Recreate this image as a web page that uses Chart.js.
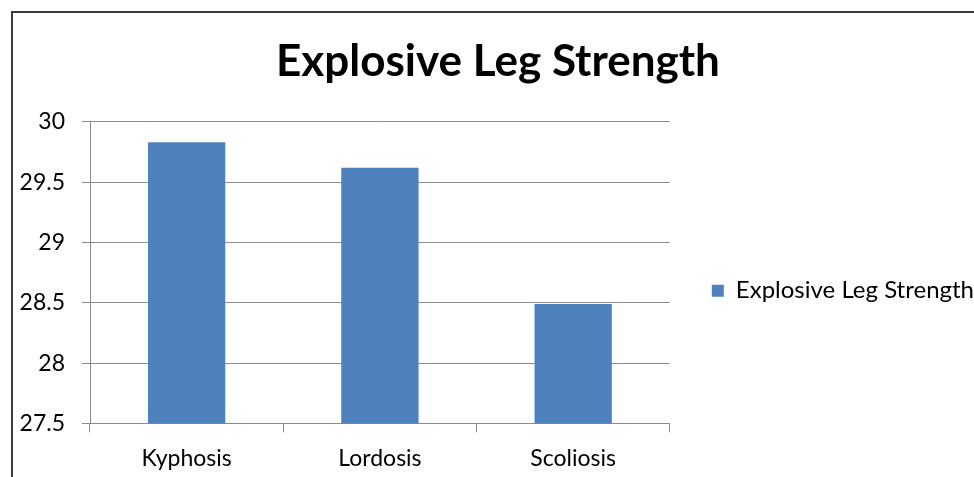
<!DOCTYPE html>
<html>
<head>
<meta charset="utf-8">
<script src="https://cdn.jsdelivr.net/npm/chart.js@4.4.0/dist/chart.umd.min.js"></script>
<style>
  html, body { margin: 0; padding: 0; background: #fff; overflow: hidden; width: 974px; height: 477px; }
  #frame { position: absolute; left: 11px; top: 11px; width: 990px; height: 490px; border-left: 2px solid #3a3a3a; border-top: 2px solid #3a3a3a; background: #fff; }
  #wrap { position: absolute; left: -1px; top: 0px; width: 972px; height: 471px; }
</style>
</head>
<body>
<div id="frame"><div id="wrap"><canvas id="c"></canvas></div></div>
<script>
const categories = ["Kyphosis", "Lordosis", "Scoliosis"];
const seriesName = "Explosive Leg Strength";
const seriesValues = [29.83, 29.62, 28.49];
const chartTitle = "Explosive Leg Strength";
const yMin = 27.5, yMax = 30, yStep = 0.5;

const FONT = "Lato, 'Open Sans', sans-serif";
const gridColor = "#8c8c8c";

new Chart(document.getElementById("c"), {
  type: "bar",
  data: {
    labels: categories,
    datasets: [{
      label: seriesName,
      data: seriesValues,
      backgroundColor: "#4f81bd",
      borderColor: "#4f81bd",
      borderWidth: 0,
      barPercentage: 0.4,
      categoryPercentage: 1.0
    }]
  },
  options: {
    responsive: true,
    maintainAspectRatio: false,
    animation: false,
    layout: { padding: { left: 0, right: 0, top: 0, bottom: 0 } },
    plugins: {
      title: {
        display: true,
        text: chartTitle,
        color: "#000",
        font: { family: FONT, size: 44, weight: "bold" },
        padding: { top: 22, bottom: 34 }
      },
      legend: {
        position: "right",
        maxWidth: 600,
        title: { display: true, text: "", padding: 35, font: { size: 12 } },
        labels: {
          color: "#000",
          font: { family: FONT, size: 24 },
          boxWidth: 12,
          boxHeight: 12,
          padding: 42
        }
      },
      tooltip: { enabled: false }
    },
    scales: {
      x: {
        grid: { display: true, drawOnChartArea: false, drawTicks: true, tickLength: 9, color: gridColor, offset: true },
        border: { color: gridColor, width: 1 },
        ticks: { color: "#000", font: { family: FONT, size: 23 }, padding: 12 }
      },
      y: {
        min: yMin,
        max: yMax,
        afterFit: (s) => { s.width = 78; },
        ticks: { stepSize: yStep, color: "#000", font: { family: FONT, size: 23 }, padding: 17,
                 callback: (v) => String(Math.round(v * 10) / 10) },
        grid: { color: gridColor, tickLength: 8 },
        border: { color: gridColor, width: 1 }
      }
    }
  }
});
</script>
</body>
</html>
